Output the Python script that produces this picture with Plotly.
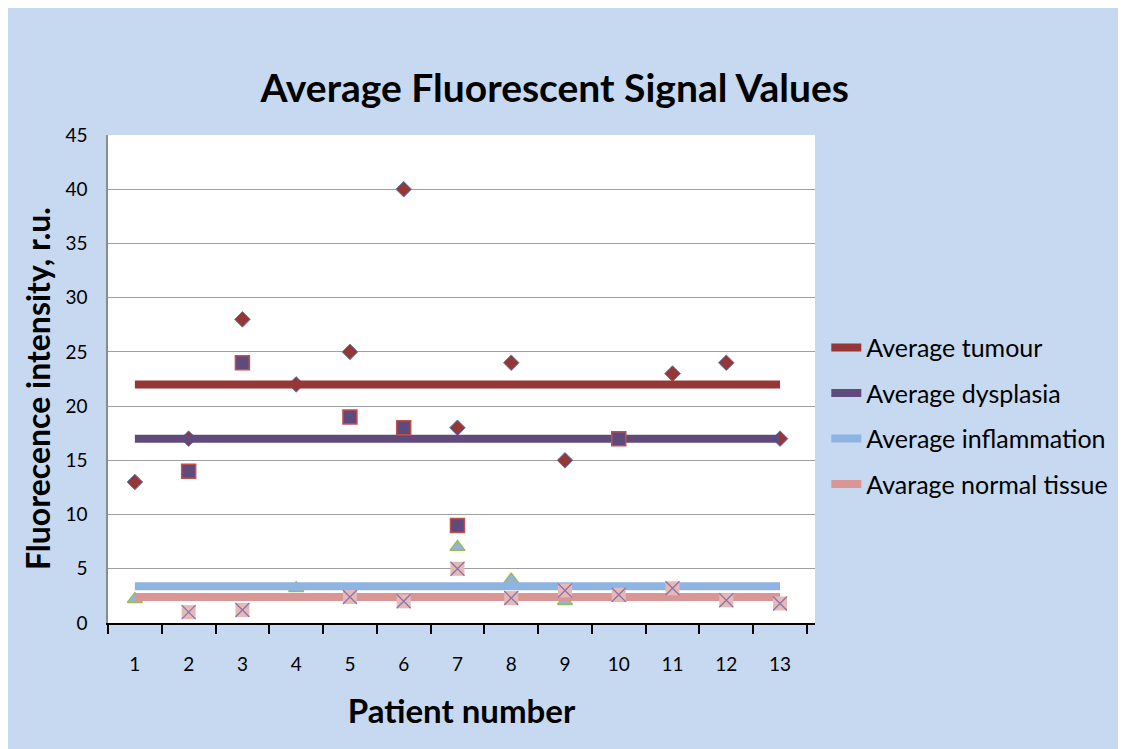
import plotly.graph_objects as go

# Patient numbers on the x axis
patients = [1, 2, 3, 4, 5, 6, 7, 8, 9, 10, 11, 12, 13]

# Measured values per patient (None = no point drawn)
tumour = [13, 17, 28, 22, 25, 40, 18, 24, 15, None, 23, 24, 17]
dysplasia = [None, 14, 24, None, 19, 18, 9, None, None, 17, None, None, None]
inflammation = [2.2, None, None, 3.2, None, None, 7, 4, 2, 2.3, None, None, None]
normal = [None, 1, 1.2, None, 2.4, 2, 5, 2.3, 3.0, 2.6, 3.2, 2.1, 1.8]

# Averages drawn as flat lines across all patients
avgTumour = [22] * 13
avgDysplasia = [17] * 13
avgInflammation = [3.4] * 13
avgNormal = [2.4] * 13

FONT = "Lato"
BLUE_BG = "#C6D9F1"

fig = go.Figure()

# Scatter points that sit below the average lines
fig.add_trace(
    go.Scatter(
        x = patients,
        y = tumour,
        mode = "markers",
        showlegend = False,
        marker = {
            "symbol": "diamond",
            "size": 12,
            "color": "#953735",
            "line": {"width": 1, "color": "#5B7FBF"}
        }
    )
).add_trace(
    go.Scatter(
        x = patients,
        y = inflammation,
        mode = "markers",
        showlegend = False,
        marker = {
            "symbol": "triangle-up",
            "size": 13,
            "color": "#8EB4E3",
            "line": {"width": 1.5, "color": "#9BBB59"}
        }
    )
)

# Average lines (the legend entries)
for name, vals, col in [
    ("Average tumour", avgTumour, "#953735"),
    ("Average dysplasia", avgDysplasia, "#604A7B"),
    ("Average inflammation", avgInflammation, "#8EB4E3"),
    ("Avarage normal tissue", avgNormal, "#D99694"),
]:
    fig.add_trace(
        go.Scatter(
            x = patients,
            y = vals,
            name = name,
            legendgroup = name,
            mode = "lines",
            line = {"width": 8, "color": col}
        )
    )

# Points drawn on top of the lines
fig.add_trace(
    go.Scatter(
        x = patients,
        y = dysplasia,
        mode = "markers",
        showlegend = False,
        marker = {
            "symbol": "square",
            "size": 14,
            "color": "#604A7B",
            "line": {"width": 1.5, "color": "#C0504D"}
        }
    )
).add_trace(
    go.Scatter(
        x = patients,
        y = normal,
        mode = "markers",
        showlegend = False,
        marker = {"symbol": "square", "size": 14, "color": "#E6B9B8"}
    )
).add_trace(
    go.Scatter(
        x = patients,
        y = normal,
        mode = "markers",
        showlegend = False,
        marker = {
            "symbol": "x-thin",
            "size": 14,
            "line": {"width": 1.3, "color": "#8B74A8"}
        }
    )
)

# the page body adds an 8px white margin, which gives the white border on top/left
fig.update_layout(
    width = 1118,
    height = 741,
    paper_bgcolor = BLUE_BG,
    plot_bgcolor = "white",
    margin = {"l": 100, "r": 311, "t": 127, "b": 126, "pad": 0},
    font = {"family": FONT, "color": "black"},
    title = {
        "text": "<b>Average Fluorescent Signal Values</b>",
        "font": {"size": 39, "family": FONT},
        "x": 0.489,
        "xanchor": "center",
        "y": 0.892,
        "yanchor": "middle"
    },
    xaxis = {
        "range": [0.5, 13.65],
        "tickmode": "array",
        "tickvals": patients,
        "ticktext": [str(p) for p in patients],
        "ticks": "",
        "tickfont": {"size": 19},
        "ticklabelstandoff": 23,
        "minor": {
            "ticks": "outside",
            "tick0": 0.5,
            "dtick": 1,
            "ticklen": 9,
            "tickcolor": "black",
            "tickwidth": 1.5,
            "showgrid": False
        },
        "showline": True,
        "linecolor": "black",
        "linewidth": 1.5,
        "showgrid": False,
        "zeroline": False,
        "title": {
            "text": "<b>Patient number</b>",
            "font": {"size": 33},
            "standoff": 26
        }
    },
    yaxis = {
        "range": [0, 45],
        "tick0": 0,
        "dtick": 5,
        "ticks": "",
        "tickfont": {"size": 19},
        "ticklabelstandoff": 15,
        "showline": True,
        "linecolor": "#8C8C8C",
        "linewidth": 1.5,
        "showgrid": True,
        "gridcolor": "#A0A0A0",
        "gridwidth": 1,
        "zeroline": False
    },
    annotations = [{
        "text": "<b>Fluorecence intensity, r.u.</b>",
        "font": {"size": 32},
        "textangle": -90,
        "showarrow": False,
        "xref": "paper",
        "yref": "paper",
        "x": -0.1004,
        "y": 0.4795,
        "xanchor": "center",
        "yanchor": "middle"
    }],
    legend = {
        "x": 1.016,
        "xanchor": "left",
        "y": 0.611,
        "yanchor": "top",
        "bgcolor": "rgba(0,0,0,0)",
        "font": {"size": 25},
        "tracegroupgap": 10
    }
)

fig.write_html("out.html")
